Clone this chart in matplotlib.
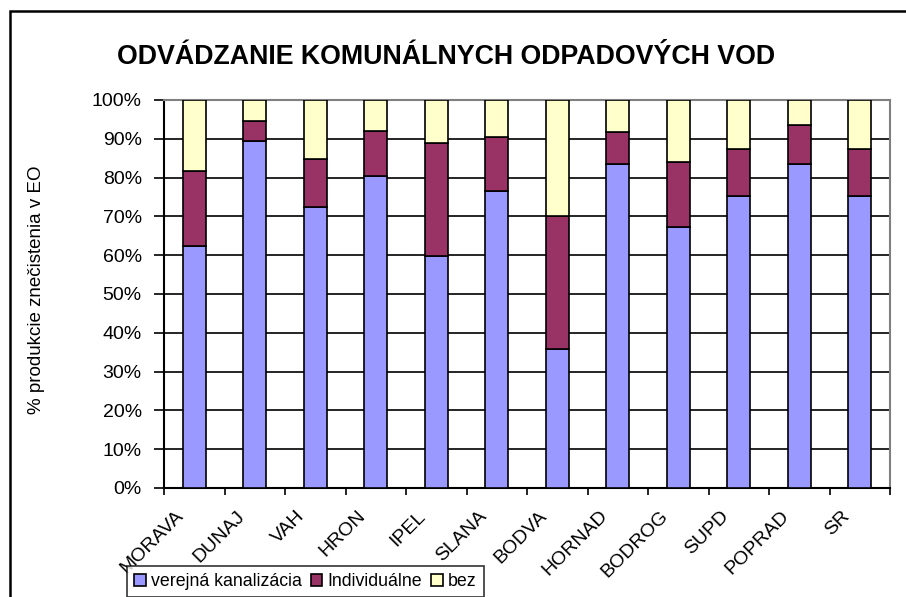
import matplotlib.pyplot as plt
import numpy as np
from matplotlib.patches import Rectangle
from matplotlib.transforms import ScaledTranslation

plt.rcParams['font.family'] = ['Liberation Sans', 'DejaVu Sans']

# data (% of pollution production in EO)
rivers = ['MORAVA', 'DUNAJ', 'VAH', 'HRON', 'IPEL', 'SLANA', 'BODVA',
          'HORNAD', 'BODROG', 'SUPD', 'POPRAD', 'SR']
verejna = [62.4, 89.5, 72.3, 80.5, 59.8, 76.6, 35.8, 83.5, 67.2, 75.3, 83.5, 75.3]
individ = [19.4, 5.2, 12.5, 11.6, 29.0, 13.8, 34.4, 8.2, 16.8, 12.1, 10.0, 12.1]
bez = [100 - a - b for a, b in zip(verejna, individ)]
series_names = ['verejná kanalizácia', 'Individuálne', 'bez']
colors = ['#9999FF', '#993366', '#FFFFCC']
yticks = np.arange(0, 101, 10)

fig = plt.figure(figsize=(9.06, 5.97), dpi=100)
ax = fig.add_axes([164/906, 1-488/597, 726/906, 388/597])

x = np.arange(len(rivers))
bottom = np.zeros(len(rivers))
for vals, name, col in zip([verejna, individ, bez], series_names, colors):
    ax.bar(x, vals, width=0.38, bottom=bottom, color=col, edgecolor='black',
           linewidth=1.2, label=name, zorder=3)
    bottom += np.array(vals)

ax.set_xlim(-0.5, len(rivers) - 0.5)
ax.set_ylim(0, 100)
ax.set_yticks(yticks)
ax.set_yticklabels([f'{v}%' for v in yticks], fontsize=14)
for v in yticks[1:-1]:
    ax.axhline(v, color='black', lw=1.2, zorder=1)

ax.set_xticks(x)
ax.set_xticks(np.arange(-0.5, len(rivers)), minor=True)
ax.set_xticklabels(rivers, rotation=45, ha='right', va='top', fontsize=14)
ax.tick_params(axis='x', which='major', length=0, pad=14)
ax.tick_params(axis='x', which='minor', length=5, width=1.2, direction='out')
ax.tick_params(axis='y', length=7, width=1.2, pad=9)
off = ScaledTranslation(-5/72, 0, fig.dpi_scale_trans)
for lab in ax.get_xticklabels():
    lab.set_transform(lab.get_transform() + off)

for s in ['left', 'bottom']:
    ax.spines[s].set_color('black')
    ax.spines[s].set_linewidth(1.5)
for s in ['top', 'right']:
    ax.spines[s].set_color('#808080')
    ax.spines[s].set_linewidth(1.5)

ax.set_ylabel('% produkcie znečistenia v EO', fontsize=13.5)
ax.yaxis.set_label_coords(-0.164, 0.51)

fig.text(0.492, 0.9045, 'ODVÁDZANIE KOMUNÁLNYCH ODPADOVÝCH VOD',
         ha='center', va='center', fontsize=19.3, fontweight='bold')

leg = fig.legend(loc='upper left', bbox_to_anchor=(127/906, 1-566/597),
                 ncol=3, fontsize=12.8, frameon=True, fancybox=False,
                 edgecolor='black', handlelength=0.65, handleheight=0.65,
                 handletextpad=0.3, columnspacing=0.5, borderaxespad=0,
                 borderpad=0.4)
leg.get_frame().set_linewidth(1.2)

# outer chart frame (right and bottom edges fall outside the image)
fig.patches.append(Rectangle((10/906, -0.1), 1.0, 1 - 11/597 + 0.1,
                             transform=fig.transFigure, fill=False,
                             edgecolor='black', lw=1.8))

fig.savefig('out.png', dpi=100)
